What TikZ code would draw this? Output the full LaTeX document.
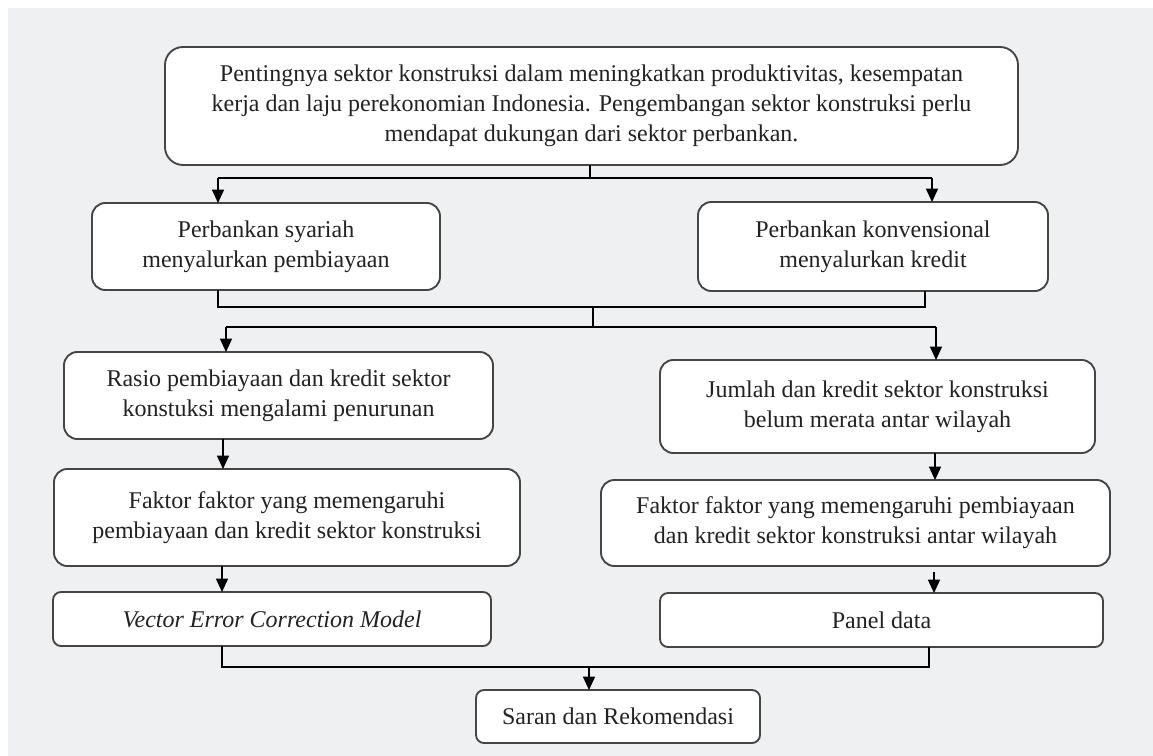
\documentclass[tikz,border=0pt]{standalone}
\usepackage{fontspec}
\setmainfont{Liberation Serif}
\usetikzlibrary{arrows.meta}
\newdimen\pxu \pxu=0.75pt
\definecolor{bggray}{HTML}{EFF0F2}
\definecolor{edgegray}{HTML}{454545}
\definecolor{txtgray}{HTML}{222222}
\begin{document}
\begin{tikzpicture}[x=0.75pt,y=-0.75pt,
  box/.style={draw=edgegray, line width=1.4pt, fill=white, rounded corners=10pt,
    align=center, inner sep=0pt, outer sep=0pt, text=txtgray,
    font=\fontsize{18}{22.5}\selectfont},
  bigbox/.style={box, rounded corners=13.5pt},
  flatbox/.style={box, rounded corners=6pt},
  conn/.style={draw=black, line width=1pt},
  arr/.style={conn, -{Triangle[width=9pt,length=10pt]}}]
\useasboundingbox (0,0) rectangle (1153,756);
\fill[white] (0,0) rectangle (1153,756);
\fill[bggray] (8,8) rectangle (1153,756);

\node[bigbox, minimum width=853\pxu, minimum height=118\pxu] (top) at (591.5,106)
 {Pentingnya sektor konstruksi dalam meningkatkan produktivitas, kesempatan\\
  kerja dan laju perekonomian Indonesia. Pengembangan sektor konstruksi perlu\\
  mendapat dukungan dari sektor perbankan.};
\node[box, minimum width=348\pxu, minimum height=87\pxu] (l2) at (266,246.5)
 {Perbankan syariah\\menyalurkan pembiayaan};
\node[box, minimum width=350\pxu, minimum height=89\pxu] (r2) at (873,246.5)
 {Perbankan konvensional\\menyalurkan kredit};
\node[box, minimum width=429\pxu, minimum height=87\pxu] (l3) at (278.5,395.5)
 {Rasio pembiayaan dan kredit sektor\\konstuksi mengalami penurunan};
\node[box, minimum width=435\pxu, minimum height=93\pxu] (r3) at (877.5,406.5)
 {Jumlah dan kredit sektor konstruksi\\belum merata antar wilayah};
\node[box, minimum width=466\pxu, minimum height=97\pxu] (l4) at (287,517.5)
 {Faktor faktor yang memengaruhi\\pembiayaan dan kredit sektor konstruksi};
\node[box, minimum width=509\pxu, minimum height=86\pxu] (r4) at (855.5,523)
 {Faktor faktor yang memengaruhi pembiayaan\\dan kredit sektor konstruksi antar wilayah};
\node[flatbox, minimum width=438\pxu, minimum height=54\pxu] (vecm) at (272,619)
 {\itshape Vector Error Correction Model};
\node[flatbox, minimum width=443\pxu, minimum height=54\pxu] (panel) at (881.5,620)
 {Panel data};
\node[flatbox, minimum width=284\pxu, minimum height=53\pxu] (saran) at (618,716.5)
 {Saran dan Rekomendasi};

% top -> l2, r2
\coordinate (j1) at (590,178);
\coordinate (j1l) at (218,178);
\coordinate (j1r) at (932,178);
\draw[conn] (top.south -| j1) -- (j1);
\draw[conn] (j1l) -- (j1r);
\draw[arr] (j1l) -- (j1l |- l2.north);
\draw[arr] (j1r) -- (j1r |- r2.north);

% l2, r2 -> l3, r3
\coordinate (m1l) at (218,307);
\coordinate (m1r) at (925,307);
\coordinate (m1c) at (593,307);
\coordinate (m2c) at (593,327);
\coordinate (m2l) at (226,327);
\coordinate (m2r) at (936,327);
\draw[conn] (l2.south -| m1l) -- (m1l) -- (m1r) -- (r2.south -| m1r);
\draw[conn] (m1c) -- (m2c);
\draw[conn] (m2l) -- (m2r);
\draw[arr] (m2l) -- (m2l |- l3.north);
\draw[arr] (m2r) -- (m2r |- r3.north);

% l3 -> l4, r3 -> r4
\coordinate (c3l) at (223,0);
\coordinate (c3r) at (935,0);
\draw[arr] (l3.south -| c3l) -- (l4.north -| c3l);
\draw[arr] (r3.south -| c3r) -- (r4.north -| c3r);

% l4 -> vecm, r4 -> panel
\coordinate (c4l) at (222,0);
\coordinate (c4r) at (934,0);
\draw[arr] (l4.south -| c4l) -- (vecm.north -| c4l);
\draw[arr, shorten <=6\pxu] (r4.south -| c4r) -- (panel.north -| c4r);

% vecm, panel -> saran
\coordinate (b1l) at (222,667);
\coordinate (b1r) at (929,667);
\coordinate (b1c) at (589,667);
\draw[conn] (vecm.south -| b1l) -- (b1l) -- (b1r) -- (panel.south -| b1r);
\draw[arr] (b1c) -- (saran.north -| b1c);
\end{tikzpicture}
\end{document}
